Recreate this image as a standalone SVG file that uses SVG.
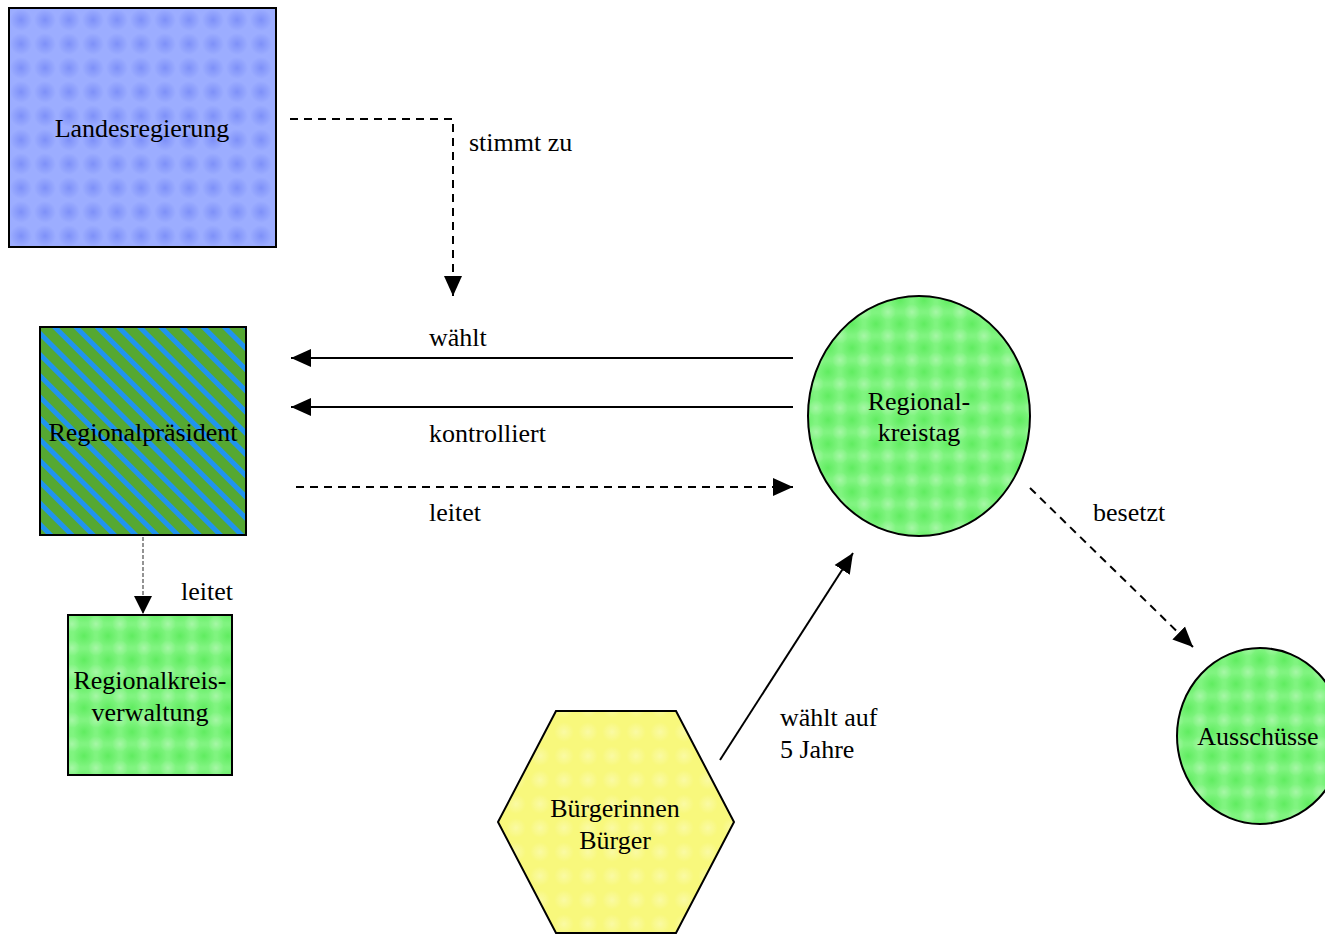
<svg xmlns="http://www.w3.org/2000/svg" width="1325" height="934" viewBox="0 0 1325 934">
<style>
text{font-family:"Liberation Serif","Times New Roman",serif;font-size:26px;fill:#000}
.c{text-anchor:middle}
.node{stroke:#000;stroke-width:2}
.solid{fill:none;stroke:#000;stroke-width:2}
.dash{fill:none;stroke:#000;stroke-width:2;stroke-dasharray:8 6}
.thin{fill:none;stroke:#707070;stroke-width:1.5;stroke-dasharray:4 2}
</style>
<defs>
<radialGradient id="gBlue"><stop offset="0" stop-color="#5a6ef0" stop-opacity="0.45"/><stop offset="1" stop-color="#5a6ef0" stop-opacity="0"/></radialGradient>
<radialGradient id="gLight"><stop offset="0" stop-color="#ffffff" stop-opacity="0.3"/><stop offset="1" stop-color="#ffffff" stop-opacity="0"/></radialGradient>
<radialGradient id="gGreen"><stop offset="0" stop-color="#30e030" stop-opacity="0.4"/><stop offset="1" stop-color="#30e030" stop-opacity="0"/></radialGradient>
<pattern id="pBlue" width="24" height="24" patternUnits="userSpaceOnUse" x="9" y="8">
<rect width="24" height="24" fill="#9cadff"/><circle cx="12" cy="12" r="11" fill="url(#gBlue)"/></pattern>
<pattern id="pGreen" width="24" height="24" patternUnits="userSpaceOnUse">
<rect width="24" height="24" fill="#80f480"/><circle cx="12" cy="12" r="11" fill="url(#gGreen)"/><circle cx="0" cy="0" r="8" fill="url(#gLight)"/><circle cx="24" cy="0" r="8" fill="url(#gLight)"/><circle cx="0" cy="24" r="8" fill="url(#gLight)"/><circle cx="24" cy="24" r="8" fill="url(#gLight)"/></pattern>
<pattern id="pYellow" width="24" height="24" patternUnits="userSpaceOnUse">
<rect width="24" height="24" fill="#f8f87c"/><circle cx="12" cy="12" r="10" fill="url(#gLight)"/></pattern>
<pattern id="pStripe" width="15" height="15" patternUnits="userSpaceOnUse" patternTransform="rotate(-45)">
<rect width="15" height="15" fill="#55a832"/><rect width="5" height="15" fill="#2094ee"/></pattern>
<marker id="ah" markerWidth="20" markerHeight="20" refX="20" refY="10" orient="auto" markerUnits="userSpaceOnUse">
<path d="M0,1 L20,10 L0,19 Z" fill="#000"/></marker>
<marker id="ahs" markerWidth="20" markerHeight="20" refX="18" refY="10" orient="auto" markerUnits="userSpaceOnUse">
<path d="M0,1 L18,10 L0,19 Z" fill="#000"/></marker>
</defs>
<rect width="1325" height="934" fill="#fff"/>
<g id="connectors">
<path class="dash" d="M290,119 H453 V296" marker-end="url(#ah)"/>
<line class="solid" x1="793" y1="358" x2="291" y2="358" marker-end="url(#ah)"/>
<line class="solid" x1="793" y1="407" x2="291" y2="407" marker-end="url(#ah)"/>
<line class="dash" x1="296" y1="487" x2="793" y2="487" marker-end="url(#ah)"/>
<line class="thin" x1="143" y1="537" x2="143" y2="614" marker-end="url(#ahs)"/>
<line class="solid" x1="720" y1="760" x2="853" y2="553" marker-end="url(#ah)"/>
<line class="dash" x1="1030" y1="488" x2="1193" y2="647" marker-end="url(#ah)"/>
<text x="469" y="151">stimmt zu</text>
<text x="429" y="346">wählt</text>
<text x="429" y="442">kontrolliert</text>
<text x="429" y="521">leitet</text>
<text x="181" y="600">leitet</text>
<text x="1093" y="521">besetzt</text>
<text x="780" y="726">wählt auf</text>
<text x="780" y="758">5 Jahre</text>
</g>
<g id="landesregierung">
<rect class="node" x="9" y="8" width="267" height="239" fill="url(#pBlue)"/>
<text class="c" x="142" y="137">Landesregierung</text>
</g>
<g id="regionalpraesident">
<rect class="node" x="40" y="327" width="206" height="208" fill="url(#pStripe)"/>
<text class="c" x="143" y="441">Regionalpräsident</text>
</g>
<g id="regionalkreisverwaltung">
<rect class="node" x="68" y="615" width="164" height="160" fill="url(#pGreen)"/>
<text class="c" x="150" y="689">Regionalkreis-</text>
<text class="c" x="150" y="721">verwaltung</text>
</g>
<g id="regionalkreistag">
<ellipse class="node" cx="919" cy="416" rx="111" ry="120" fill="url(#pGreen)"/>
<text class="c" x="919" y="410">Regional-</text>
<text class="c" x="919" y="441">kreistag</text>
</g>
<g id="ausschuesse">
<ellipse class="node" cx="1260" cy="736" rx="83" ry="88" fill="url(#pGreen)"/>
<text class="c" x="1258" y="745">Ausschüsse</text>
</g>
<g id="buerger">
<polygon class="node" points="556,711 676,711 734,822 676,933 556,933 498,822" fill="url(#pYellow)"/>
<text class="c" x="615" y="817">Bürgerinnen</text>
<text class="c" x="615" y="849">Bürger</text>
</g>
</svg>
